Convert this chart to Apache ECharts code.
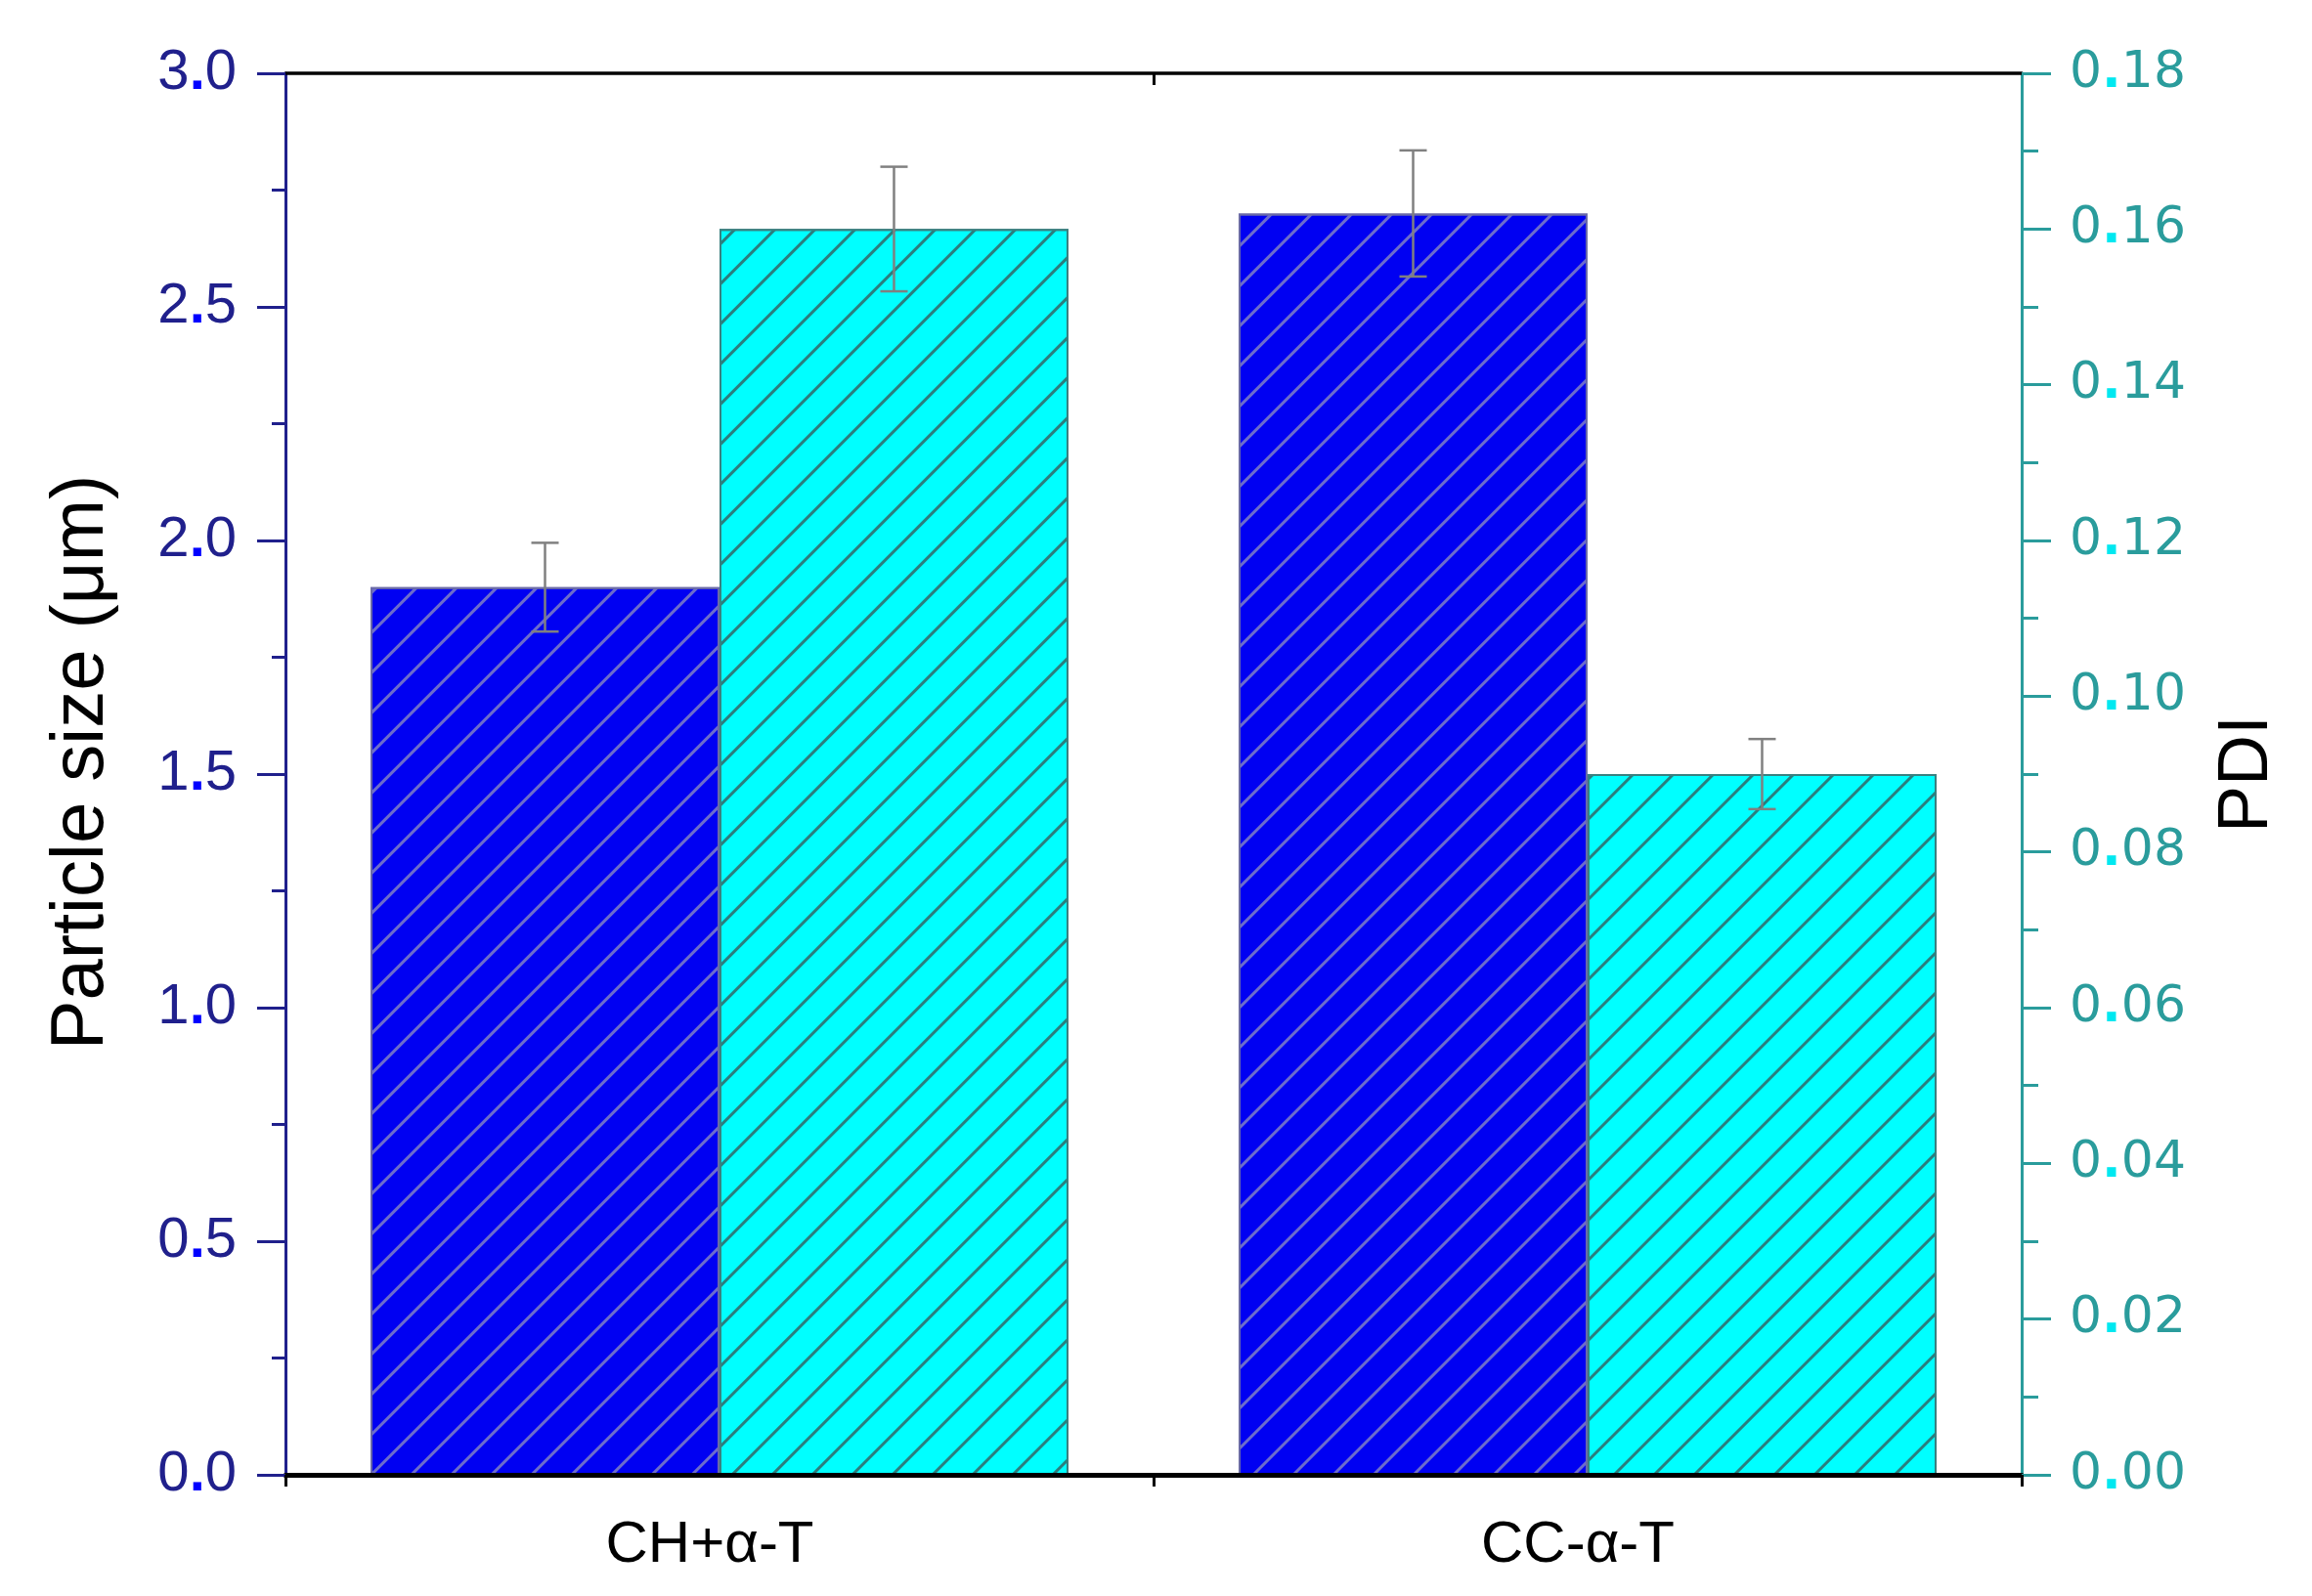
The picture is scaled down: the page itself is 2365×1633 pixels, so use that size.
<!DOCTYPE html>
<html>
<head>
<meta charset="utf-8">
<script src="https://cdn.jsdelivr.net/npm/echarts@6/dist/echarts.min.js"></script>
<style>
html,body{margin:0;padding:0;background:#fff;}
#chart{width:2365px;height:1633px;}
</style>
</head>
<body>
<div id="chart"></div>
<script>
const categories = ['CH+α-T', 'CC-α-T'];
const sizeValues = [1.90, 2.70];
const sizeErrors = [0.095, 0.135];
const pdiValues = [0.160, 0.090];
const pdiErrors = [0.008, 0.0045];
const tickSlots = ['s0', 's1', 's2', 's3', 's4'];

const FONT = 'Liberation Sans';
const NAVY = '#20208c';
const TEAL = '#2a9c9c';
const GAP = 0.196;

function dotLabel(digits, v) {
  const s = v.toFixed(digits).split('.');
  return '{n|' + s[0] + '}{d|.}{n|' + s[1] + '}';
}

function errRender(side) {
  return function (params, api) {
    const x = api.value(0), v = api.value(1), e = api.value(2);
    const hi = api.coord([x, v + e]);
    const lo = api.coord([x, v - e]);
    const band = api.size([1, 0])[0];
    const cx = hi[0] + side * band * (1 - GAP) / 4;
    const cap = 14;
    const style = { stroke: '#808080', lineWidth: 2.5 };
    return {
      type: 'group',
      children: [
        { type: 'line', shape: { x1: cx, y1: hi[1], x2: cx, y2: lo[1] }, style: style },
        { type: 'line', shape: { x1: cx - cap, y1: hi[1], x2: cx + cap, y2: hi[1] }, style: style },
        { type: 'line', shape: { x1: cx - cap, y1: lo[1], x2: cx + cap, y2: lo[1] }, style: style }
      ]
    };
  };
}

const chart = echarts.init(document.getElementById('chart'));
chart.setOption({
  backgroundColor: '#fff',
  animation: false,
  grid: { left: 292, right: 297, top: 75, bottom: 124, containLabel: false },
  xAxis: [
    {
      type: 'category', data: categories, position: 'bottom', boundaryGap: true, z: 10,
      axisLine: { onZero: false, lineStyle: { color: '#000', width: 5 } },
      axisTick: { alignWithLabel: true, length: 28, lineStyle: { color: '#000', width: 3 } },
      axisLabel: { fontSize: 60, color: '#000', fontFamily: FONT, margin: 42, padding: [0, 20, 0, 0] },
      splitLine: { show: false }
    },
    {
      type: 'category', data: tickSlots, position: 'bottom', boundaryGap: false, z: 10,
      axisLine: { show: false, onZero: false },
      axisTick: { show: true, interval: function (i) { return i % 2 === 0; }, length: 12, lineStyle: { color: '#000', width: 3 } },
      axisLabel: { show: false }, splitLine: { show: false }
    },
    {
      type: 'category', data: categories, position: 'top', boundaryGap: true, z: 10,
      axisLine: { onZero: false, lineStyle: { color: '#000', width: 3.5 } },
      axisTick: { alignWithLabel: true, inside: true, length: 25, lineStyle: { color: '#000', width: 3 } },
      axisLabel: { show: false }, splitLine: { show: false }
    },
    {
      type: 'category', data: tickSlots, position: 'top', boundaryGap: false, z: 10,
      axisLine: { show: false, onZero: false },
      axisTick: { show: true, inside: true, interval: function (i) { return i === 2; }, length: 12, lineStyle: { color: '#000', width: 3 } },
      axisLabel: { show: false }, splitLine: { show: false }
    }
  ],
  yAxis: [
    {
      type: 'value', position: 'left', min: 0, max: 3, interval: 0.5, z: 10,
      name: 'Particle size (μm)', nameLocation: 'middle', nameGap: 170, nameRotate: 90,
      nameTextStyle: { fontSize: 76, color: '#000', fontFamily: FONT, padding: [0, 0, 0, 24] },
      axisLine: { show: true, lineStyle: { color: NAVY, width: 3 } },
      axisTick: { show: true, length: 29, lineStyle: { color: NAVY, width: 3 } },
      minorTick: { show: true, splitNumber: 2, length: 14, lineStyle: { color: NAVY, width: 3 } },
      splitLine: { show: false },
      axisLabel: {
        margin: 50,
        formatter: function (v) { return dotLabel(1, v); },
        rich: {
          n: { fontSize: 58, color: NAVY, fontFamily: FONT },
          d: { fontSize: 58, color: '#0000ff', fontFamily: FONT, fontWeight: 'bold' }
        }
      }
    },
    {
      type: 'value', position: 'right', min: 0, max: 0.18, interval: 0.02, z: 10,
      name: 'PDI', nameLocation: 'middle', nameGap: 195, nameRotate: 90,
      nameTextStyle: { fontSize: 72, color: '#000', fontFamily: FONT },
      axisLine: { show: true, lineStyle: { color: TEAL, width: 3 } },
      axisTick: { show: true, length: 30, lineStyle: { color: TEAL, width: 3 } },
      minorTick: { show: true, splitNumber: 2, length: 17, lineStyle: { color: TEAL, width: 3 } },
      splitLine: { show: false },
      axisLabel: {
        margin: 49,
        formatter: function (v) { return dotLabel(2, v); },
        rich: {
          n: { fontSize: 52, color: TEAL, fontFamily: 'DejaVu Sans' },
          d: { fontSize: 52, color: '#00e8f0', fontFamily: 'DejaVu Sans', fontWeight: 'bold' }
        }
      }
    }
  ],
  series: [
    {
      name: 'Particle size', type: 'bar', xAxisIndex: 0, yAxisIndex: 0, data: sizeValues,
      barCategoryGap: (GAP * 100) + '%', barGap: '0%',
      itemStyle: {
        color: '#0000f2', borderColor: '#6a6aa8', borderWidth: 2,
        decal: { symbol: 'rect', symbolSize: 1, dashArrayX: [1, 0], dashArrayY: [2.2, 25.8], rotation: -Math.PI / 4, color: 'rgba(120,120,200,0.9)' }
      },
      z: 2
    },
    {
      name: 'PDI', type: 'bar', xAxisIndex: 0, yAxisIndex: 1, data: pdiValues,
      barCategoryGap: (GAP * 100) + '%', barGap: '0%',
      itemStyle: {
        color: '#00ffff', borderColor: '#3a8080', borderWidth: 2,
        decal: { symbol: 'rect', symbolSize: 1, dashArrayX: [1, 0], dashArrayY: [2.2, 25.8], rotation: -Math.PI / 4, color: '#2a7e7e' }
      },
      z: 2
    },
    {
      type: 'custom', xAxisIndex: 0, yAxisIndex: 0, z: 5,
      data: sizeValues.map(function (v, i) { return [i, v, sizeErrors[i]]; }),
      encode: { x: 0, y: 1 },
      renderItem: errRender(-1)
    },
    {
      type: 'custom', xAxisIndex: 0, yAxisIndex: 1, z: 5,
      data: pdiValues.map(function (v, i) { return [i, v, pdiErrors[i]]; }),
      encode: { x: 0, y: 1 },
      renderItem: errRender(1)
    }
  ]
});
</script>
</body>
</html>
